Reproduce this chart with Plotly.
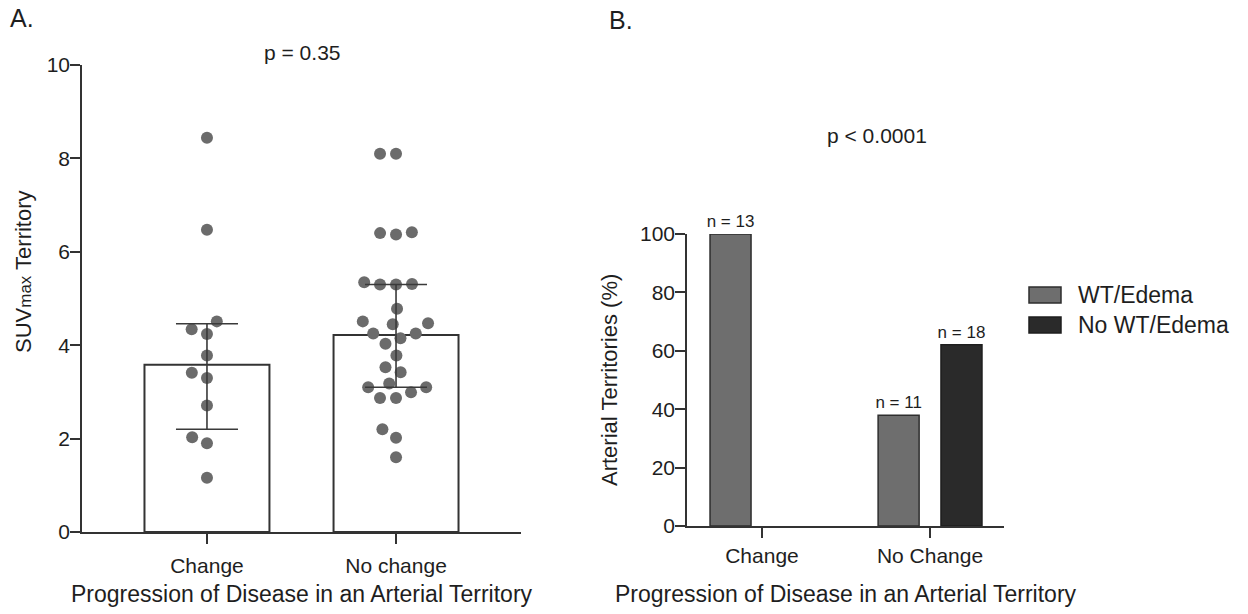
import math
import plotly.graph_objects as go

# ---------------- data ----------------
# Panel A
groups_a = ["Change", "No change"]
suv_change = [8.44, 6.47, 4.51, 4.34, 4.24, 3.78, 3.41, 3.30, 2.71, 2.03, 1.90, 1.16]
suv_nochange = [8.10, 8.10, 6.37, 6.42, 6.40, 5.35, 5.30, 5.31, 5.30, 4.78, 4.47, 4.45,
                4.51, 4.25, 4.15, 4.25, 4.03, 3.78, 3.53, 3.42, 3.18, 3.10, 3.10, 2.99,
                2.87, 2.87, 2.20, 2.02, 1.60]
bar_center_a = [3.58, 4.22]
err_upper_a = [4.46, 5.30]
err_lower_a = [2.20, 3.10]
yticks_a = [0, 2, 4, 6, 8, 10]

# Panel B
groups_b = ["Change", "No Change"]
series_b = ["WT/Edema", "No WT/Edema"]
pct_wt = [100, 37.9]
pct_nowt = [0, 62.1]
n_wt = [13, 11]
n_nowt = [0, 18]
yticks_b = [0, 20, 40, 60, 80, 100]

# ---------------- layout geometry ----------------
W, H = 1248, 614
FONT = "Liberation Sans, Arial, Helvetica, sans-serif"
TXT = "#1e1e1e"
AX = "#333333"
C_WT = "#6e6e6e"
C_NOWT = "#2a2a2a"

xa_dom = [82 / W, 521 / W]
ya_dom = [1 - 532 / H, 1 - 65 / H]
xb_dom = [687 / W, 1004 / W]
yb_dom = [1 - 526 / H, 1 - 234 / H]
xa_range = [-0.661, 1.661]
ya_range = [0, 10]
xb_range = [-0.446, 1.44]
yb_range = [0, 100]

px_per_x = (xa_dom[1] - xa_dom[0]) * W / (xa_range[1] - xa_range[0])
px_per_y = (ya_dom[1] - ya_dom[0]) * H / (ya_range[1] - ya_range[0])


def beeswarm(vals, diam=16.0):
    """Greedy beeswarm: returns horizontal offsets in data units."""
    placed = []
    offs = [0.0] * len(vals)
    order = sorted(range(len(vals)), key=lambda i: vals[i])
    for i in order:
        y = vals[i] * px_per_y
        cands = [0.0]
        for (px, py) in placed:
            ddy = abs(py - y)
            if ddy < diam:
                dx = math.sqrt(diam ** 2 - ddy ** 2)
                cands += [px - dx, px + dx]
        cands.sort(key=lambda c: (round(abs(c), 6), c))
        x = 0.0
        for c in cands:
            if all((c - px) ** 2 + (y - py) ** 2 >= diam ** 2 - 1e-6 for px, py in placed):
                x = c
                break
        placed.append((x, y))
        offs[i] = x / px_per_x
    return offs


fig = go.Figure()

# Panel A bars
fig.add_trace(go.Bar(
    x=[0, 1], y=bar_center_a, width=0.661,
    marker=dict(color="white", line=dict(color=AX, width=2)),
    xaxis="x", yaxis="y", showlegend=False, hoverinfo="skip"))

# Panel A points
for gi, vals in enumerate([suv_change, suv_nochange]):
    offs = beeswarm(vals)
    fig.add_trace(go.Scatter(
        x=[gi + o for o in offs], y=vals, mode="markers",
        marker=dict(size=12, color="#6b6b6b", line=dict(width=0)),
        xaxis="x", yaxis="y", showlegend=False, cliponaxis=False))

# Panel A error bars (drawn above points)
fig.add_trace(go.Scatter(
    x=[0, 1], y=bar_center_a, mode="markers",
    marker=dict(size=1, color="rgba(0,0,0,0)"),
    error_y=dict(type="data", symmetric=False,
                 array=[u - c for u, c in zip(err_upper_a, bar_center_a)],
                 arrayminus=[c - l for c, l in zip(bar_center_a, err_lower_a)],
                 color="#3a3a3a", thickness=1.6, width=31),
    xaxis="x", yaxis="y", showlegend=False, hoverinfo="skip"))

# Panel B bars
bw = 0.244
for vals, ns, name, col, lc, off in [
        (pct_wt, n_wt, series_b[0], C_WT, "#2e2e2e", -0.187),
        (pct_nowt, n_nowt, series_b[1], C_NOWT, "#1e1e1e", 0.187)]:
    fig.add_trace(go.Bar(
        x=[0, 1], y=[v if v > 0 else None for v in vals], width=bw,
        offset=off - bw / 2, name=name, showlegend=False,
        marker=dict(color=col, line=dict(color=lc, width=1.5)),
        text=[f"n = {n}" if n else "" for n in ns], textposition="outside",
        textfont=dict(size=17, color=TXT, family=FONT), constraintext="none",
        cliponaxis=False, xaxis="x2", yaxis="y2"))

axis_common = dict(showline=True, linecolor=AX, linewidth=1.6, showgrid=False,
                   zeroline=False, ticks="outside", ticklen=10, tickwidth=1.6,
                   tickcolor=AX, tickfont=dict(size=21, color=TXT, family=FONT),
                   automargin=False, fixedrange=True)

fig.update_layout(
    width=W, height=H,
    margin=dict(l=0, r=0, t=0, b=0),
    paper_bgcolor="white", plot_bgcolor="white",
    font=dict(family=FONT, color=TXT),
    barmode="overlay", showlegend=False,
    xaxis=dict(domain=xa_dom, range=xa_range, tickvals=[0, 1], ticktext=groups_a,
               ticklabelstandoff=4, **axis_common),
    yaxis=dict(domain=ya_dom, range=ya_range, tickvals=yticks_a, anchor="x",
               ticklabelstandoff=-4, **axis_common),
    xaxis2=dict(domain=xb_dom, range=xb_range, tickvals=[0, 1], ticktext=groups_b,
                anchor="y2", ticklabelstandoff=0, **axis_common),
    yaxis2=dict(domain=yb_dom, range=yb_range, tickvals=yticks_b, anchor="x2",
                ticklabelstandoff=-4, **axis_common),
)

ann = [
    dict(text="A.", x=8 / W, y=1 - 18 / H, xanchor="left", size=25),
    dict(text="B.", x=607 / W, y=1 - 20 / H, xanchor="left", size=25),
    dict(text="p = 0.35", x=302 / W, y=1 - 52 / H, xanchor="center", size=21),
    dict(text="p < 0.0001", x=877 / W, y=1 - 135 / H, xanchor="center", size=21),
    dict(text="Progression of Disease in an Arterial Territory", x=302 / W,
         y=1 - 594 / H, xanchor="center", size=23),
    dict(text="Progression of Disease in an Arterial Territory", x=846 / W,
         y=1 - 594 / H, xanchor="center", size=23),
    dict(text=series_b[0], x=1076 / W, y=1 - 295 / H, xanchor="left", size=23),
    dict(text=series_b[1], x=1076 / W, y=1 - 325 / H, xanchor="left", size=23),
]
annotations = [dict(text=a["text"], x=a["x"], y=a["y"], xref="paper", yref="paper",
                    xanchor=a["xanchor"], yanchor="middle", showarrow=False,
                    font=dict(size=a["size"], color=TXT, family=FONT)) for a in ann]
annotations.append(dict(text="SUV<span style='font-size:17px'>max</span> Territory",
                        x=23 / W, y=1 - 272 / H, xref="paper", yref="paper",
                        textangle=-90, showarrow=False, xanchor="center", yanchor="middle",
                        font=dict(size=22, color=TXT, family=FONT)))
annotations.append(dict(text="Arterial Territories (%)", x=609 / W, y=1 - 380 / H,
                        xref="paper", yref="paper", textangle=-90, showarrow=False,
                        xanchor="center", yanchor="middle",
                        font=dict(size=22, color=TXT, family=FONT)))
fig.update_layout(annotations=annotations)

# legend swatches (custom legend to match the original's wide boxes)
fig.update_layout(shapes=[
    dict(type="rect", xref="paper", yref="paper", x0=1029 / W, x1=1061 / W,
         y0=1 - 303 / H, y1=1 - 287 / H, fillcolor=C_WT,
         line=dict(color="#2e2e2e", width=1.5)),
    dict(type="rect", xref="paper", yref="paper", x0=1029 / W, x1=1061 / W,
         y0=1 - 333 / H, y1=1 - 317 / H, fillcolor=C_NOWT,
         line=dict(color="#1e1e1e", width=1.5)),
])

fig.write_html("out.html", config={"displayModeBar": False},
               post_script="document.body.style.margin='0';document.body.style.overflow='hidden';")
